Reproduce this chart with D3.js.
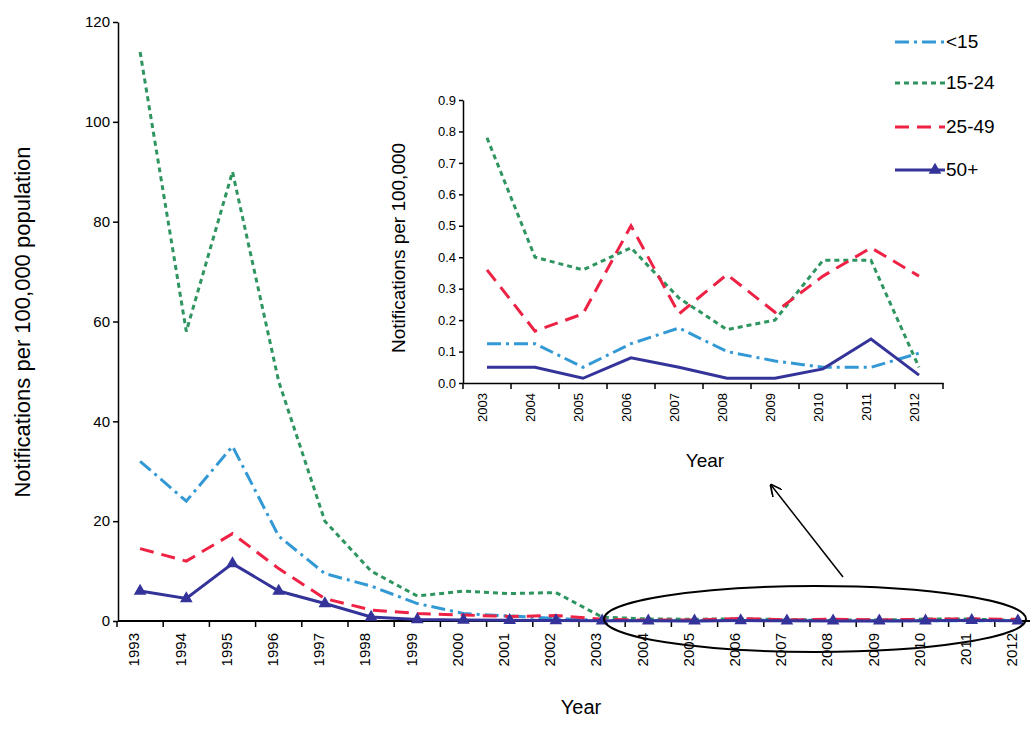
<!DOCTYPE html><html><head><script src="https://cdn.jsdelivr.net/npm/d3@7"></script>
<style>body{margin:0;background:#fff;font-family:Arial,"Liberation Sans",sans-serif}</style></head><body><svg id="c" width="1032" height="744"></svg><script>
const years=["1993","1994","1995","1996","1997","1998","1999","2000","2001","2002","2003","2004","2005","2006","2007","2008","2009","2010","2011","2012"];
const under15=[32,24,35,17,9.5,7,3.5,1.5,1,0.5,0.125,0.125,0.05,0.125,0.175,0.1,0.07,0.05,0.05,0.095];
const age15_24=[114,58,90,48,20,10,5,6,5.5,5.7,0.78,0.40,0.36,0.43,0.27,0.17,0.2,0.39,0.39,0.05];
const age25_49=[14.5,12,17.5,10.5,4.5,2.2,1.5,1.2,0.9,1.1,0.36,0.165,0.22,0.5,0.22,0.345,0.225,0.34,0.43,0.34];
const age50p=[6,4.5,11.5,6,3.5,0.8,0.3,0.2,0.15,0.1,0.05,0.05,0.015,0.08,0.05,0.015,0.015,0.045,0.14,0.025];
const seriesNames=["<15","15-24","25-49","50+"];
const yTicksMain=[0,20,40,60,80,100,120];
const yTicksInset=[0,0.1,0.2,0.3,0.4,0.5,0.6,0.7,0.8,0.9];
const styles=[{c:"#3399d4",d:"14,5,3,5",w:2.5},{c:"#2e9560",d:"5,4",w:2.5},{c:"#ee2244",d:"14,8",w:2.5},{c:"#333399",d:null,w:2.5}];
const data=[under15,age15_24,age25_49,age50p];
const svg=d3.select("#c");
const x=d3.scaleBand().domain(years).range([117,1041]);
const y=d3.scaleLinear().domain([0,120]).range([621,22]);
const gy=svg.append("g").attr("transform","translate(118,0)").call(d3.axisLeft(y).tickValues(yTicksMain).tickSize(5).tickSizeOuter(0));
const gx=svg.append("g").attr("transform","translate(0,621)").call(d3.axisBottom(x).tickSize(0));
gx.select("path").remove();
svg.append("line").attr("x1",118).attr("x2",1030).attr("y1",621).attr("y2",621).attr("stroke","#000").attr("stroke-width",2);
gx.selectAll(".tick text").attr("transform","rotate(-90)").attr("text-anchor","end").attr("x",-12).attr("y",-6).attr("dy","0.35em");
years.forEach(yr=>svg.append("line").attr("x1",x(yr)).attr("x2",x(yr)).attr("y1",621).attr("y2",627).attr("stroke","#000").attr("stroke-width",1.5));
[gx,gy].forEach(g=>{g.selectAll("path,line").attr("stroke","#000").attr("stroke-width",1.5);g.selectAll("text").attr("font-size",15).attr("fill","#000").attr("font-family","Arial,Liberation Sans");});
const cx=d=>x(d)+x.bandwidth()/2;
data.forEach((s,i)=>{
 const st=styles[i];
 const l=d3.line().x((d,j)=>cx(years[j])).y(d=>y(d));
 svg.append("path").attr("d",l(s)).attr("fill","none").attr("stroke",st.c).attr("stroke-width",3).attr("stroke-dasharray",st.d);
});
const tri=d3.symbol().type(d3.symbolTriangle).size(70);
age50p.forEach((v,j)=>svg.append("path").attr("d",tri()).attr("transform",`translate(${cx(years[j])},${y(v)})`).attr("fill","#333399"));
svg.append("text").attr("transform","translate(30,322) rotate(-90)").attr("text-anchor","middle").attr("font-size",22).text("Notifications per 100,000 population");
svg.append("text").attr("x",581).attr("y",714).attr("text-anchor","middle").attr("font-size",20).text("Year");
svg.append("ellipse").attr("cx",815).attr("cy",619).attr("rx",211).attr("ry",33).attr("fill","none").attr("stroke","#000").attr("stroke-width",2);
svg.append("defs").append("marker").attr("id","ah").attr("viewBox","0 0 10 10").attr("refX",9).attr("refY",5).attr("markerWidth",8).attr("markerHeight",8).attr("orient","auto").append("path").attr("d","M0,0L10,5L0,10").attr("fill","none").attr("stroke","#000").attr("stroke-width",1.5);
svg.append("line").attr("x1",843).attr("y1",577).attr("x2",771).attr("y2",485).attr("stroke","#000").attr("stroke-width",1.5).attr("marker-end","url(#ah)");
const iy=years.slice(10);
const x2=d3.scaleBand().domain(iy).range([463,943]);
const y2=d3.scaleLinear().domain([0,0.9]).range([383,100]);
const g2y=svg.append("g").attr("transform","translate(463,0)").call(d3.axisLeft(y2).tickValues(yTicksInset).tickFormat(d3.format(".1f")).tickSize(4).tickSizeOuter(0));
const g2x=svg.append("g").attr("transform","translate(0,383)").call(d3.axisBottom(x2).tickSize(0));
g2x.selectAll(".tick text").attr("transform","rotate(-90)").attr("text-anchor","end").attr("x",-10).attr("y",-5).attr("dy","0.35em");
iy.forEach(yr=>svg.append("line").attr("x1",x2(yr)).attr("x2",x2(yr)).attr("y1",383).attr("y2",389).attr("stroke","#000").attr("stroke-width",1.5));
svg.append("line").attr("x1",943).attr("x2",943).attr("y1",383).attr("y2",389).attr("stroke","#000").attr("stroke-width",1.5);
[g2x,g2y].forEach(g=>{g.selectAll("path,line").attr("stroke","#000").attr("stroke-width",1.5);g.selectAll("text").attr("font-size",13).attr("fill","#000").attr("font-family","Arial,Liberation Sans");});
const cx2=d=>x2(d)+x2.bandwidth()/2;
data.forEach((s,i)=>{
 const st=styles[i];
 const l=d3.line().x((d,j)=>cx2(iy[j])).y(d=>y2(d));
 svg.append("path").attr("d",l(s.slice(10))).attr("fill","none").attr("stroke",st.c).attr("stroke-width",3).attr("stroke-dasharray",st.d);
});
svg.append("text").attr("transform","translate(405,248) rotate(-90)").attr("text-anchor","middle").attr("font-size",19).text("Notifications per 100,000");
svg.append("text").attr("x",705).attr("y",467).attr("text-anchor","middle").attr("font-size",19).text("Year");
const ly=[42,83,127,170];
seriesNames.forEach((n,i)=>{
 const st=styles[i];
 svg.append("line").attr("x1",895).attr("x2",945).attr("y1",ly[i]).attr("y2",ly[i]).attr("stroke",st.c).attr("stroke-width",3).attr("stroke-dasharray",st.d);
 if(i==3) svg.append("path").attr("d",tri()).attr("transform",`translate(935,${ly[i]})`).attr("fill","#333399");
 svg.append("text").attr("x",946).attr("y",ly[i]+6).attr("font-size",19).text(n);
});
</script></body></html>
